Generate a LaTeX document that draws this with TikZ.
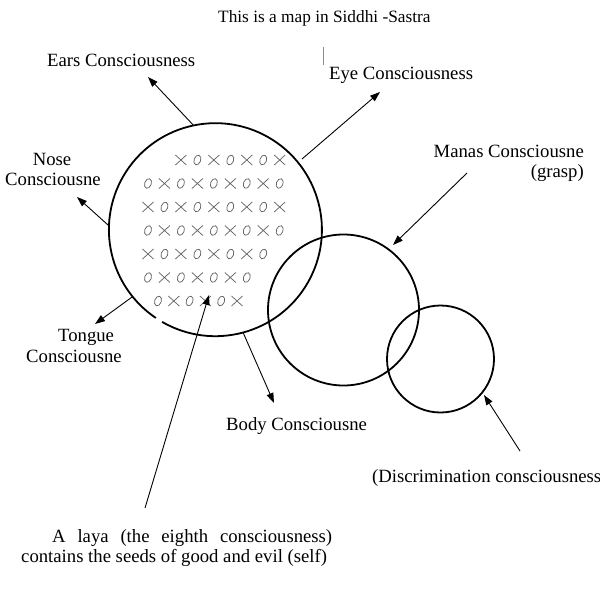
\documentclass[tikz,border=0pt]{standalone}
\usepackage{fontspec}
\setmainfont{Liberation Serif}
\usetikzlibrary{arrows.meta}
\begin{document}
\begin{tikzpicture}[x=1pt,y=-1pt,
  lbl/.style={inner sep=0pt, font=\fontsize{18.7}{21}\selectfont},
  ttl/.style={inner sep=0pt, font=\fontsize{17.3}{20}\selectfont},
  ring/.style={circle, draw, line width=1.8pt, inner sep=0pt},
  pointer/.style={line width=0.9pt, -{Triangle[length=10pt,width=7pt]}},
  seed/.style={draw=black!60, line width=0.75pt},
  xmk/.pic={\draw[seed] (-5.5,-5)--(5.5,5) (-5.5,5)--(5.5,-5);},
  omk/.pic={\draw[seed,rotate=-20] (0,0) ellipse [x radius=3.3, y radius=5];}
]
\useasboundingbox (0,0) rectangle (600,595);

% circles
\node[circle, inner sep=0pt, minimum size=213pt] (bigc) at (215.5,229.5) {};
\draw[line width=1.8pt] (bigc.240) arc[start angle=-240, end angle=-596, radius=106.5];
\node[ring, minimum size=151pt] (manasc) at (343.5,310) {};
\node[ring, minimum size=107pt] (discc) at (440.5,359) {};

% seeds grid
\foreach \ra/\ca/\cb in {0/2/8, 1/0/8, 2/0/8, 3/0/8, 4/0/7, 5/0/6}{
  \foreach \cc in {\ca,...,\cb}{
    \pgfmathtruncatemacro\parity{mod(\ra+\cc,2)}
    \ifnum\parity=0
      \pic at ({148+16.46*\cc},{160+23.5*\ra}) {xmk};
    \else
      \pic at ({148+16.46*\cc},{160+23.5*\ra}) {omk};
    \fi
  }
}
\foreach \cc in {0,...,5}{
  \pgfmathtruncatemacro\parity{mod(\cc,2)}
  \ifnum\parity=0
    \pic at ({158+15.8*\cc},301) {omk};
  \else
    \pic at ({158+15.8*\cc},301) {xmk};
  \fi
}

% labels
\node[ttl, anchor=base west] (title) at (218,22) {This is a map in Siddhi -Sastra};
\draw[black!45, line width=0.8pt] (323,47) -- (323,65);
\node[lbl, anchor=base west] (ears) at (47,66) {Ears Consciousness};
\node[lbl, anchor=base west] (eye) at (329,79) {Eye Consciousness};
\node[lbl, anchor=base] (nose1) at (52,165) {Nose};
\node[lbl, anchor=base west] (nose2) at (5,185) {Consciousne};
\node[lbl, anchor=base west] (tongue1) at (58,341) {Tongue};
\node[lbl, anchor=base west] (tongue2) at (26,362) {Consciousne};
\node[lbl, anchor=base west] (body) at (226,430) {Body Consciousne};
\node[lbl, anchor=base east] (manas1) at (584,157) {Manas Consciousne};
\node[lbl, anchor=base east] (manas2) at (584,177) {(grasp)};
\node[lbl, anchor=base west] (disc) at (372,482) {(Discrimination consciousness};
\node[lbl, anchor=base west] (al1) at (52,542) {\makebox[280pt][s]{A laya (the eighth consciousness)}};
\node[lbl, anchor=base west] (al2) at (21,562) {contains the seeds of good and evil (self)};

% arrows
\coordinate (earsTip) at (148,77);
\coordinate (eyeFoot) at (302,159);
\coordinate (eyeTip) at (380,92);
\coordinate (noseTip) at (77,197);
\coordinate (tongueTip) at (95,324);
\coordinate (bodyTip) at (274,403);
\coordinate (manasFoot) at (467,173);
\coordinate (manasTip) at (393,245);
\coordinate (discFoot) at (520,451);
\coordinate (discTip) at (484,395);
\coordinate (alayaFoot) at (145,508);
\coordinate (alayaTip) at (209,295);

\draw[pointer] (bigc.102) -- (earsTip);
\draw[pointer] (eyeFoot) -- (eyeTip);
\draw[pointer] (bigc.178) -- (noseTip);
\draw[pointer] (bigc.219) -- (tongueTip);
\draw[pointer] (bigc.285) -- (bodyTip);
\draw[pointer] (manasFoot) -- (manasTip);
\draw[pointer] (discFoot) -- (discTip);
\draw[pointer] (alayaFoot) -- (alayaTip);
\end{tikzpicture}
\end{document}
